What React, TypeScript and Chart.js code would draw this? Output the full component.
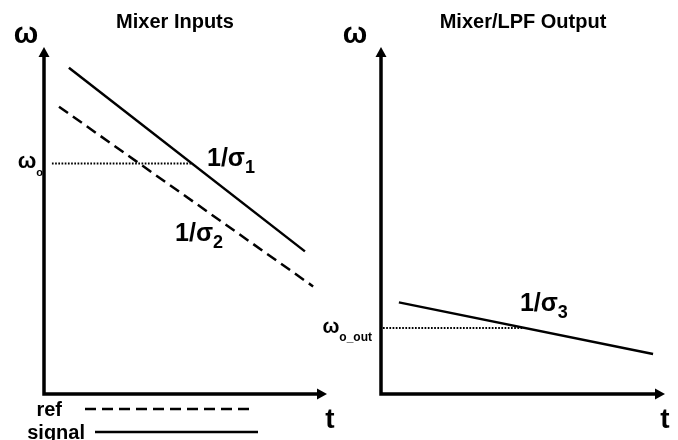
import React, { useEffect, useRef } from "react";
import { Chart, registerables } from "chart.js";

Chart.register(...registerables);

// ---------- Data (abstract units: t from 0..10, ω from 0..10) ----------
// Left panel: Mixer Inputs
const leftTitle = "Mixer Inputs";
const signalT = [0.88, 9.22];
const signalW = [9.4, 4.11];
const refT = [0.53, 9.51];
const refW = [8.28, 3.1];
const omega0 = 6.64;
const omega0T = [0.28, 5.23];
const sigma1Pos = [5.76, 6.58];
const sigma2Pos = [4.63, 4.4];

// Right panel: Mixer/LPF Output
const rightTitle = "Mixer/LPF Output";
const outT = [0.63, 9.58];
const outW = [2.64, 1.15];
const omegaOut = 1.9;
const omegaOutT = [0.07, 5.07];
const sigma3Pos = [4.89, 2.39];

const legendLabels = ["ref", "signal"];
const axisLabels = ["ω", "t"];

const FONT = "'Liberation Sans', Arial, Helvetica, sans-serif";

const pts = (xs: number[], ys: number[]) => xs.map((x, i) => ({ x, y: ys[i] }));

function drawSub(
  ctx: CanvasRenderingContext2D,
  x: number,
  y: number,
  main: string,
  sub: string,
  mainSize: number,
  subSize: number,
  dy: number,
  align: "left" | "right"
) {
  ctx.font = `bold ${mainSize}px ${FONT}`;
  const mw = ctx.measureText(main).width;
  ctx.font = `bold ${subSize}px ${FONT}`;
  const sw = ctx.measureText(sub).width;
  const x0 = align === "left" ? x : x - mw - sw;
  ctx.textAlign = "left";
  ctx.textBaseline = "alphabetic";
  ctx.font = `bold ${mainSize}px ${FONT}`;
  ctx.fillText(main, x0, y);
  ctx.font = `bold ${subSize}px ${FONT}`;
  ctx.fillText(sub, x0 + mw, y + dy);
}

const decorPlugin = {
  id: "decor",
  afterDraw(chart: any, _args: any, opts: any) {
    const { ctx, chartArea } = chart;
    const { left, right, top, bottom } = chartArea;
    const xs = chart.scales.x;
    const ys = chart.scales.y;
    ctx.save();
    ctx.fillStyle = "#000";
    ctx.strokeStyle = "#000";

    // axes
    ctx.lineWidth = 3.5;
    ctx.setLineDash([]);
    ctx.beginPath();
    ctx.moveTo(left, bottom + 1.75);
    ctx.lineTo(left, top + 9);
    ctx.moveTo(left, bottom);
    ctx.lineTo(right - 9, bottom);
    ctx.stroke();
    ctx.beginPath();
    ctx.moveTo(left, top);
    ctx.lineTo(left - 5.5, top + 10);
    ctx.lineTo(left + 5.5, top + 10);
    ctx.closePath();
    ctx.fill();
    ctx.beginPath();
    ctx.moveTo(right, bottom);
    ctx.lineTo(right - 10, bottom - 5.5);
    ctx.lineTo(right - 10, bottom + 5.5);
    ctx.closePath();
    ctx.fill();

    // title
    ctx.textAlign = "center";
    ctx.textBaseline = "alphabetic";
    ctx.font = `bold 20px ${FONT}`;
    ctx.fillText(opts.title, opts.titleX, 28);

    // axis letters
    ctx.font = `bold 29px ${FONT}`;
    ctx.fillText(axisLabels[0], left + opts.omegaDx, 43);
    ctx.font = `bold 28px ${FONT}`;
    ctx.fillText(axisLabels[1], right + opts.tDx, 428);

    // tick-level label (ω_o / ω_o_out)
    const yPix = ys.getPixelForValue(opts.levelValue);
    drawSub(ctx, left + opts.levelDx, yPix + opts.levelDy, "ω", opts.levelSub, opts.levelSize, opts.levelSubSize, opts.levelSubDy, "right");

    // slope labels
    for (const lab of opts.slopes) {
      const px = xs.getPixelForValue(lab.pos[0]);
      const py = ys.getPixelForValue(lab.pos[1]);
      drawSub(ctx, px, py, "1/σ", lab.sub, 25, 18, 7, "left");
    }

    // legend
    if (opts.legend) {
      ctx.font = `bold 20px ${FONT}`;
      ctx.textAlign = "right";
      ctx.fillText(legendLabels[0], 62, 416);
      ctx.fillText(legendLabels[1], 85, 439);
      ctx.lineWidth = 2.5;
      ctx.setLineDash([11, 6]);
      ctx.beginPath();
      ctx.moveTo(85, 409);
      ctx.lineTo(255, 409);
      ctx.stroke();
      ctx.setLineDash([]);
      ctx.beginPath();
      ctx.moveTo(95, 432);
      ctx.lineTo(258, 432);
      ctx.stroke();
    }
    ctx.restore();
  },
};

function makeConfig(datasets: any[], padding: any, decor: any) {
  return {
    type: "scatter",
    data: { datasets },
    plugins: [decorPlugin],
    options: {
      animation: false,
      responsive: false,
      events: [],
      layout: { padding },
      scales: {
        x: { type: "linear", min: 0, max: 10, display: false },
        y: { type: "linear", min: 0, max: 10, display: false },
      },
      plugins: {
        legend: { display: false },
        title: { display: false },
        tooltip: { enabled: false },
        decor,
      },
    },
  } as any;
}

const lineDs = (label: string, data: any[], dash: number[], width: number) => ({
  label,
  data,
  showLine: true,
  borderColor: "#000",
  backgroundColor: "#000",
  borderWidth: width,
  borderDash: dash,
  pointRadius: 0,
  borderCapStyle: "butt",
  clip: false,
});

function Panel({ config, left, width }: { config: any; left: number; width: number }) {
  const ref = useRef<HTMLCanvasElement | null>(null);
  useEffect(() => {
    if (!ref.current) return;
    const chart = new Chart(ref.current, config);
    return () => chart.destroy();
  }, []);
  return (
    <canvas
      ref={ref}
      width={width}
      height={440}
      style={{ position: "absolute", left, top: 0, width, height: 440 }}
    />
  );
}

export default function App() {
  const leftConfig = makeConfig(
    [
      lineDs("signal", pts(signalT, signalW), [], 2.5),
      lineDs("ref", pts(refT, refW), [11, 6], 2.5),
      lineDs("ω0", pts(omega0T, [omega0, omega0]), [1.7, 1.5], 2),
    ],
    { left: 44, right: 13, top: 47, bottom: 46 },
    {
      title: leftTitle,
      titleX: 175,
      omegaDx: -18,
      tDx: 3,
      levelValue: omega0,
      levelSub: "o",
      levelDx: -1,
      levelDy: 4,
      levelSize: 22,
      levelSubSize: 11,
      levelSubDy: 8,
      slopes: [
        { pos: sigma1Pos, sub: "1" },
        { pos: sigma2Pos, sub: "2" },
      ],
      legend: true,
    }
  );
  const rightConfig = makeConfig(
    [
      lineDs("out", pts(outT, outW), [], 2.5),
      lineDs("ωout", pts(omegaOutT, [omegaOut, omegaOut]), [1.7, 1.5], 2),
    ],
    { left: 81, right: 13, top: 47, bottom: 46 },
    {
      title: rightTitle,
      titleX: 223,
      omegaDx: -26,
      tDx: 0,
      levelValue: omegaOut,
      levelSub: "o_out",
      levelDx: -9,
      levelDy: 5,
      levelSize: 20,
      levelSubSize: 12,
      levelSubDy: 8,
      slopes: [{ pos: sigma3Pos, sub: "3" }],
      legend: false,
    }
  );
  return (
    <div style={{ position: "absolute", left: 0, top: 0, width: 678, height: 440, background: "#fff" }}>
      <Panel config={leftConfig} left={0} width={340} />
      <Panel config={rightConfig} left={300} width={378} />
    </div>
  );
}
